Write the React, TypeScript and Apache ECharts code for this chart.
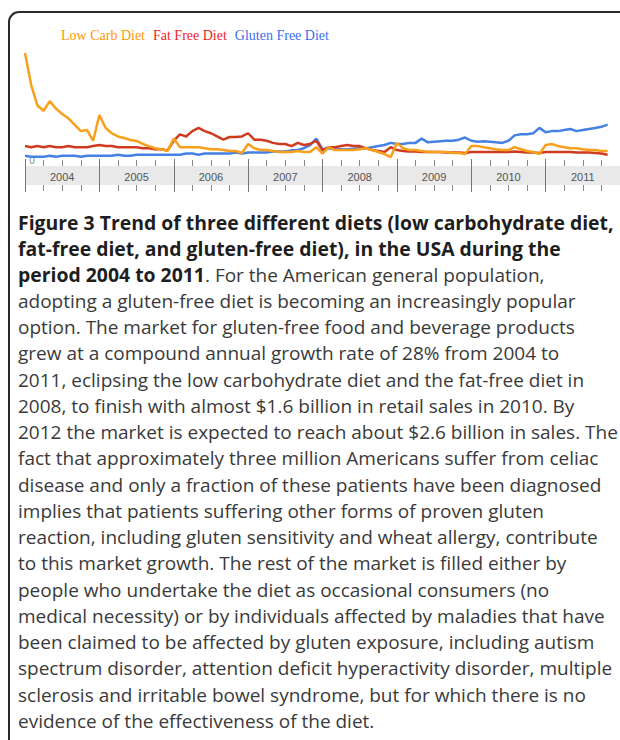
import React, { useEffect, useRef } from "react";
import * as echarts from "echarts";

const YEARS = ["2004", "2005", "2006", "2007", "2008", "2009", "2010", "2011"];
const MONTHS: string[] = [];
YEARS.forEach((y) => {
  for (let m = 1; m <= 12; m++) MONTHS.push(`${y}-${String(m).padStart(2, "0")}`);
});
MONTHS.push("2012-01");

const SERIES_NAMES = ["Low Carb Diet", "Fat Free Diet", "Gluten Free Diet"];

// monthly search-interest index, Jan 2004 .. Nov 2011
const LOW_CARB = [
  100, 70, 51, 46, 55, 48, 43, 39, 33, 27, 28, 18,
  42, 30, 25, 22, 20.5, 18.7, 17.8, 15, 13, 11, 10, 8.4,
  20, 12, 12, 12, 12, 11, 10, 10, 9.3, 8.4, 8.4, 6.5,
  15, 11, 9.3, 9.3, 8.4, 7.5, 7.5, 7.5, 8.4, 7.5, 7.5, 12,
  6, 12, 9.3, 9.3, 9.3, 9.3, 10, 11, 9.3, 7.5, 5.6, 2.8,
  16, 11, 9.3, 9.3, 8.4, 7.5, 7.5, 7.5, 7.5, 6.5, 6.5, 5.6,
  13, 13, 12, 11, 10, 9.3, 9.3, 12, 10, 8.4, 7.5, 5.6,
  14, 15, 13, 12, 11, 11, 10, 9.3, 9.3, 8.4, 8.4,
];

const FAT_FREE = [
  13, 12, 13, 12, 13, 12, 12, 13, 12, 12, 12, 13,
  14, 13, 13, 12, 12, 12, 12, 11, 11, 10, 10, 9,
  18, 24, 22, 27, 30, 27, 25, 22, 19, 21.5, 21.5, 22,
  25, 19, 19, 18, 16, 15, 15, 13, 16, 14, 15, 18,
  9, 12, 12, 13, 14, 13, 13, 11, 9.3, 8.4, 7.5, 12,
  9.3, 8.4, 8, 8, 7.5, 7.5, 7.5, 7.5, 7, 7, 7, 6.5,
  7.5, 7.5, 7.5, 7.5, 7.5, 7.5, 7.5, 8, 7.5, 7, 7, 6.5,
  7.5, 7.5, 7.5, 7.5, 7.5, 7, 7, 7, 6.5, 6, 5,
];

const GLUTEN_FREE = [
  4, 3, 3, 3, 4, 3, 4, 4, 4, 3, 4, 4,
  4, 4, 4, 5, 4, 4, 5, 5, 5, 5, 5, 5,
  5, 5, 6, 6, 5, 6, 6, 6, 6, 6, 7, 6,
  7, 7, 7, 7, 8, 8, 8, 9, 9.3, 11, 14, 20,
  10, 11, 10, 10, 10, 10.5, 11, 11, 12, 13, 14, 16,
  15, 15, 16, 16, 20, 16.5, 17, 17.5, 18, 18, 19, 21,
  18, 17, 17.5, 17, 16.5, 16, 18, 23, 24, 24, 25, 30,
  26, 27, 27, 28, 29, 27, 28, 29, 30, 31, 33,
];

const CAPTION_LINES = [
  "{b|Figure 3 Trend of three different diets (low carbohydrate diet,}",
  "{b|fat-free diet, and gluten-free diet), in the USA during the}",
  "{b|period 2004 to 2011}. For the American general population,",
  "adopting a gluten-free diet is becoming an increasingly popular",
  "option. The market for gluten-free food and beverage products",
  "grew at a compound annual growth rate of 28% from 2004 to",
  "2011, eclipsing the low carbohydrate diet and the fat-free diet in",
  "2008, to finish with almost $1.6 billion in retail sales in 2010. By",
  "2012 the market is expected to reach about $2.6 billion in sales. The",
  "fact that approximately three million Americans suffer from celiac",
  "disease and only a fraction of these patients have been diagnosed",
  "implies that patients suffering other forms of proven gluten",
  "reaction, including gluten sensitivity and wheat allergy, contribute",
  "to this market growth. The rest of the market is filled either by",
  "people who undertake the diet as occasional consumers (no",
  "medical necessity) or by individuals affected by maladies that have",
  "been claimed to be affected by gluten exposure, including autism",
  "spectrum disorder, attention deficit hyperactivity disorder, multiple",
  "sclerosis and irritable bowel syndrome, but for which there is no",
  "evidence of the effectiveness of the diet.",
];

const COLORS = { low: "#f8a01c", fat: "#cf3b1e", gluten: "#4580e3" };
const LEGEND_COLORS = ["#ff9900", "#ee1c1c", "#3d6ef0"];

export default function App() {
  const ref = useRef<HTMLDivElement>(null);
  useEffect(() => {
    if (!ref.current) return;
    const chart = echarts.init(ref.current, null, { renderer: "svg" });

    const tickCommon = {
      gridIndex: 1,
      type: "value",
      min: 2004,
      max: 2012,
      interval: 1,
      axisLine: { show: false },
      axisLabel: { show: false },
      axisTick: { show: true, length: 7, lineStyle: { color: "#777", width: 1 } },
      minorTick: { show: true, splitNumber: 4, length: 6, lineStyle: { color: "#888", width: 1 } },
    };

    const captionFont = '"Open Sans", "Noto Sans", sans-serif';
    const captionGraphics = CAPTION_LINES.map((line, k) => ({
      type: "text",
      x: 18,
      y: 222 + k * 26.26,
      silent: true,
      style: {
        text: line,
        fontFamily: captionFont,
        fontSize: 19,
        fill: "#3a3a3a",
        verticalAlign: "middle",
        align: "left",
        rich: {
          b: { fontFamily: captionFont, fontSize: 19.4, fontWeight: "bold", fill: "#1e1e1e" },
        },
      },
    }));

    chart.setOption({
      animation: false,
      legend: {
        left: 51,
        top: 23,
        icon: "rect",
        itemWidth: 0,
        itemHeight: 0,
        itemGap: 3,
        selectedMode: false,
        textStyle: { fontFamily: '"Liberation Serif", "Times New Roman", serif', fontSize: 14 },
        data: SERIES_NAMES.map((n, i) => ({ name: n, textStyle: { color: LEGEND_COLORS[i] } })),
      },
      grid: [
        { left: 25, right: -10, top: 53, height: 107 },
        { left: 25, right: -10, top: 166, height: 19, show: true, backgroundColor: "#e9e9e9", borderWidth: 0 },
      ],
      xAxis: [
        { gridIndex: 0, type: "category", data: MONTHS, boundaryGap: false, show: false },
        { ...tickCommon, position: "bottom", splitLine: { show: true, lineStyle: { color: "#777", width: 1 } } },
        { ...tickCommon, position: "top", splitLine: { show: false } },
        {
          gridIndex: 1,
          type: "category",
          data: YEARS,
          position: "bottom",
          boundaryGap: true,
          axisLine: { show: false },
          axisTick: { show: false },
          axisLabel: { inside: true, margin: 3, color: "#555", fontSize: 11, fontFamily: '"Liberation Sans", Arial, sans-serif' },
        },
      ],
      yAxis: [
        { gridIndex: 0, type: "value", min: 0, max: 100, show: false },
        { gridIndex: 1, type: "value", show: false },
      ],
      graphic: [
        {
          type: "rect",
          silent: true,
          shape: { x: 9, y: 12, width: 660, height: 780, r: 10 },
          style: { fill: "none", stroke: "#2a2a2a", lineWidth: 2 },
        },
        {
          type: "text",
          x: 32,
          y: 160,
          silent: true,
          style: {
            text: "0",
            fontSize: 10,
            fontFamily: '"Liberation Sans", Arial, sans-serif',
            fill: "#888",
            align: "center",
            verticalAlign: "middle",
          },
        },
        ...captionGraphics,
      ],
      series: [
        {
          name: "Gluten Free Diet",
          type: "line",
          xAxisIndex: 0,
          yAxisIndex: 0,
          data: GLUTEN_FREE,
          showSymbol: false,
          lineStyle: { color: COLORS.gluten, width: 2.5 },
          itemStyle: { color: COLORS.gluten },
        },
        {
          name: "Fat Free Diet",
          type: "line",
          xAxisIndex: 0,
          yAxisIndex: 0,
          data: FAT_FREE,
          showSymbol: false,
          lineStyle: { color: COLORS.fat, width: 2.5 },
          itemStyle: { color: COLORS.fat },
        },
        {
          name: "Low Carb Diet",
          type: "line",
          xAxisIndex: 0,
          yAxisIndex: 0,
          data: LOW_CARB,
          showSymbol: false,
          lineStyle: { color: COLORS.low, width: 2.5 },
          itemStyle: { color: COLORS.low },
        },
      ],
    });
    return () => chart.dispose();
  }, []);

  return (
    <div
      ref={ref}
      style={{ position: "absolute", left: 0, top: 0, width: 620, height: 740, background: "#fff", overflow: "hidden" }}
    />
  );
}
